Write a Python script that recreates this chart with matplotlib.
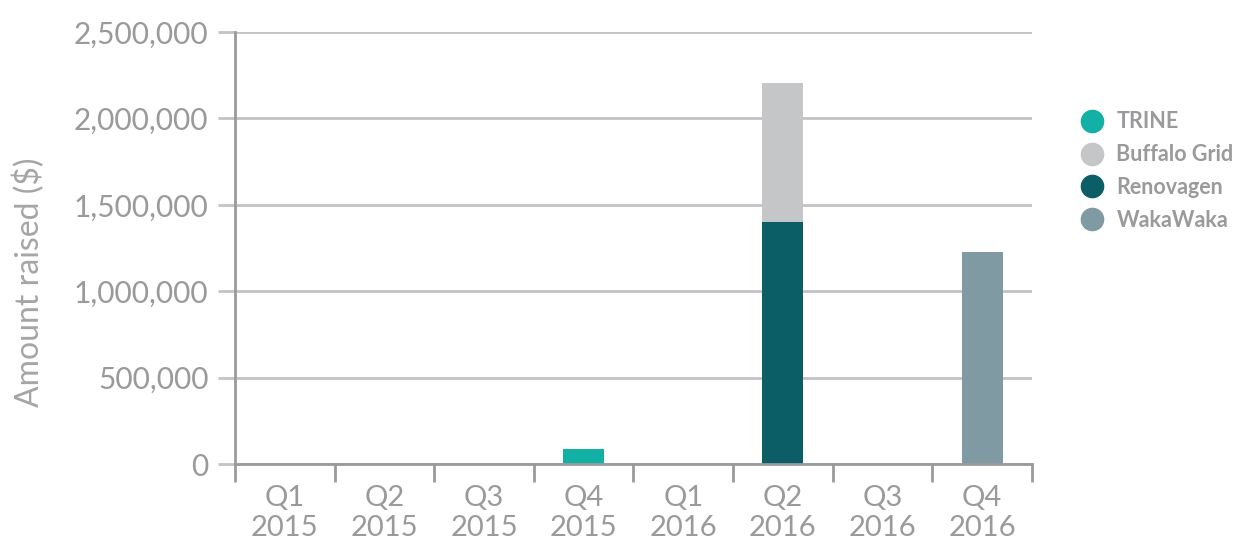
import matplotlib
matplotlib.use("Agg")
import matplotlib.pyplot as plt
from matplotlib.lines import Line2D
from matplotlib.ticker import FuncFormatter
import numpy as np

plt.rcParams['font.family'] = ['Lato', 'DejaVu Sans']

quarters = ['Q1\n2015', 'Q2\n2015', 'Q3\n2015', 'Q4\n2015',
            'Q1\n2016', 'Q2\n2016', 'Q3\n2016', 'Q4\n2016']
trine = [0, 0, 0, 87000, 0, 0, 0, 0]
renovagen = [0, 0, 0, 0, 0, 1400000, 0, 0]
buffalo_grid = [0, 0, 0, 0, 0, 805000, 0, 0]
wakawaka = [0, 0, 0, 0, 0, 0, 0, 1227000]

colors = {
    'TRINE': '#13b0a5',
    'Buffalo Grid': '#c5c6c8',
    'Renovagen': '#0b5e65',
    'WakaWaka': '#7f9aa2',
}
grey = '#9a9a9c'

fig = plt.figure(figsize=(12.42, 5.41), dpi=100)
ax = fig.add_axes([0.1892, 0.1423, 0.6417, 0.7986])

x = np.arange(len(quarters))
bottom = np.zeros(len(quarters))
# stacking order bottom -> top
for name, vals in [('TRINE', trine), ('Renovagen', renovagen),
                   ('Buffalo Grid', buffalo_grid), ('WakaWaka', wakawaka)]:
    vals = np.array(vals, dtype=float)
    ax.bar(x, vals, width=0.41, bottom=bottom, color=colors[name], zorder=3)
    bottom += vals

ax.set_xlim(-0.5, len(quarters) - 0.5)
ax.set_ylim(0, 2500000)
ax.set_yticks(np.arange(0, 2500001, 500000))
ax.yaxis.set_major_formatter(FuncFormatter(lambda v, p: f'{int(v):,}'))
ax.grid(axis='y', color='#c3c3c5', linewidth=2, zorder=0)

ax.set_xticks(x)
ax.set_xticklabels(quarters, linespacing=1.2)
ax.set_xticks(np.arange(-0.5, len(quarters)), minor=True)
ax.tick_params(axis='x', which='major', length=0, pad=15, labelsize=21, labelcolor=grey)
ax.tick_params(axis='x', which='minor', length=13, width=2, color=grey)
ax.tick_params(axis='y', length=12, width=2, color='#c3c3c5', labelsize=21.5,
               labelcolor=grey, pad=7)

for s in ['top', 'right']:
    ax.spines[s].set_visible(False)
for s in ['left', 'bottom']:
    ax.spines[s].set_color(grey)
    ax.spines[s].set_linewidth(2)
ax.spines['bottom'].set_zorder(4)

ax.set_ylabel('Amount raised ($)', fontsize=23, color='#a5a5a7')
ax.yaxis.set_label_coords(-0.238, 0.42)

handles = [Line2D([], [], marker='o', linestyle='', markersize=16,
                  markerfacecolor=colors[n], markeredgecolor=colors[n], label=n)
           for n in ['TRINE', 'Buffalo Grid', 'Renovagen', 'WakaWaka']]
leg = fig.legend(handles=handles, loc='center left', bbox_to_anchor=(0.846, 0.684),
                 frameon=False, handletextpad=0.15, labelspacing=0.55,
                 prop={'size': 15.5, 'weight': 'bold'})
for t in leg.get_texts():
    t.set_color(grey)

fig.savefig('out.png', dpi=100)
